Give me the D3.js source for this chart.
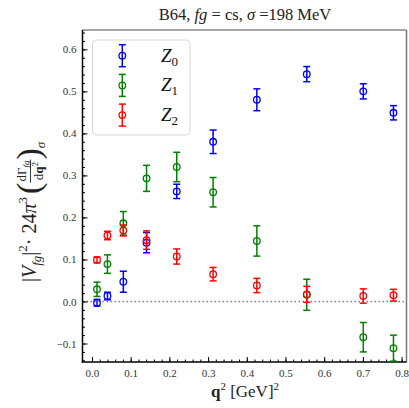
<!DOCTYPE html>
<html>
<head>
<meta charset="utf-8">
<script src="https://cdn.jsdelivr.net/npm/d3@7"></script>
<style>
  body { margin: 0; background: #fff; }
  svg text { font-family: "Liberation Serif", "DejaVu Serif", serif; }
</style>
</head>
<body>
<svg id="chart" width="409" height="408"></svg>
<script>
/* ------------ Data ----------------*/
const q2 = [0.013, 0.040, 0.081, 0.141, 0.219, 0.313, 0.426, 0.555, 0.701, 0.779];
const z0 = [-0.003, 0.013, 0.047, 0.140, 0.262, 0.380, 0.480, 0.541, 0.500, 0.449];
const z0Err = [0.008, 0.009, 0.025, 0.024, 0.017, 0.028, 0.026, 0.018, 0.018, 0.017];
const z1 = [0.029, 0.089, 0.186, 0.293, 0.320, 0.260, 0.144, 0.016, -0.085, -0.111];
const z1Err = [0.017, 0.022, 0.028, 0.031, 0.035, 0.035, 0.036, 0.037, 0.035, 0.031];
const z2 = [0.099, 0.157, 0.169, 0.146, 0.107, 0.065, 0.038, 0.017, 0.013, 0.015];
const z2Err = [0.007, 0.010, 0.013, 0.022, 0.018, 0.016, 0.017, 0.019, 0.017, 0.014];
const seriesNames = ['0', '1', '2'];
const seriesColors = ['#0000ff', '#008000', '#ff0000'];
const xTicks = [0.0, 0.1, 0.2, 0.3, 0.4, 0.5, 0.6, 0.7, 0.8];
const yTicks = [-0.1, 0.0, 0.1, 0.2, 0.3, 0.4, 0.5, 0.6];

/* ------------ Setup ----------------*/
const svg = d3.select('#chart');
const plotLeft = 82.5, plotRight = 406.5, plotTop = 30, plotBottom = 362;

const x = d3.scaleLinear().domain([-0.0245, 0.8127]).range([plotLeft, plotRight]);
const y = d3.scaleLinear().domain([-0.144, 0.646]).range([plotBottom, plotTop]);

// zero line
svg.append('line')
  .attr('x1', plotLeft).attr('x2', plotRight)
  .attr('y1', y(0)).attr('y2', y(0))
  .attr('stroke', '#808080')
  .attr('stroke-width', 1.5)
  .attr('stroke-dasharray', '1.5,2.5');

/* ------------ Axes ----------------*/
const xAxis = d3.axisBottom(x).tickValues(xTicks).tickSize(-5).tickPadding(7)
  .tickFormat(d3.format('.1f'));
const xMinor = d3.axisBottom(x).tickValues(d3.range(0, 0.81, 0.02)).tickSize(-2.5).tickFormat('');
const yAxis = d3.axisLeft(y).tickValues(yTicks).tickSize(-5).tickPadding(6)
  .tickFormat(d => d3.format('.1f')(d).replace('-', '\u2212'));
const yMinor = d3.axisLeft(y).tickValues(d3.range(-0.14, 0.645, 0.02)).tickSize(-2.5).tickFormat('');

svg.append('g').attr('transform', `translate(0,${plotBottom})`).call(xAxis);
svg.append('g').attr('transform', `translate(0,${plotBottom})`).call(xMinor);
svg.append('g').attr('transform', `translate(${plotLeft},0)`).call(yAxis);
svg.append('g').attr('transform', `translate(${plotLeft},0)`).call(yMinor);

svg.selectAll('.domain').remove();
svg.selectAll('.tick line').attr('stroke', '#000').attr('stroke-width', 1);
svg.selectAll('.tick text').attr('font-size', '11px').attr('fill', '#333');

// frame
svg.append('line').attr('x1', plotLeft).attr('x2', plotRight).attr('y1', plotTop).attr('y2', plotTop)
  .attr('stroke', '#888').attr('stroke-width', 1.5);
svg.append('line').attr('x1', plotRight).attr('x2', plotRight).attr('y1', plotTop).attr('y2', plotBottom)
  .attr('stroke', '#777').attr('stroke-width', 1.5);
svg.append('line').attr('x1', plotLeft).attr('x2', plotLeft).attr('y1', plotTop).attr('y2', plotBottom + 0.75)
  .attr('stroke', '#000').attr('stroke-width', 1.5);
svg.append('line').attr('x1', plotLeft - 0.75).attr('x2', plotRight).attr('y1', plotBottom).attr('y2', plotBottom)
  .attr('stroke', '#000').attr('stroke-width', 1.5);

/* ------------ Error bars ----------------*/
const drawErr = (wrapper, cx, cy, lo, hi, color) => {
  wrapper.append('line')
    .attr('x1', cx).attr('x2', cx).attr('y1', lo).attr('y2', hi)
    .attr('stroke', color).attr('stroke-width', 1.5);
  [lo, hi].forEach(v => wrapper.append('line')
    .attr('x1', cx - 3.5).attr('x2', cx + 3.5).attr('y1', v).attr('y2', v)
    .attr('stroke', color).attr('stroke-width', 1.5));
  wrapper.append('circle')
    .attr('cx', cx).attr('cy', cy).attr('r', 3.3)
    .attr('fill', 'none').attr('stroke', color).attr('stroke-width', 1.3);
};

const allSeries = [[z0, z0Err], [z1, z1Err], [z2, z2Err]];
allSeries.forEach(([vals, errs], s) => {
  const g = svg.append('g').attr('class', 'series' + s);
  vals.forEach((v, i) => {
    drawErr(g, x(q2[i]), y(v), y(v - errs[i]), y(v + errs[i]), seriesColors[s]);
  });
});

/* ------------ Legend ----------------*/
const legend = svg.append('g');
legend.append('rect')
  .attr('x', 92.5).attr('y', 40).attr('width', 97.5).attr('height', 95).attr('rx', 4)
  .attr('fill', '#fff').attr('fill-opacity', 0.8)
  .attr('stroke', '#d8d8d8').attr('stroke-width', 1);
seriesNames.forEach((name, i) => {
  const ly = 55.7 + i * 29.7;
  drawErr(legend, 122.3, ly, ly + 11, ly - 11, seriesColors[i]);
  const t = legend.append('text')
    .attr('x', 161).attr('y', ly + 6)
    .attr('font-size', '19px').attr('fill', '#111');
  t.append('tspan').attr('font-style', 'italic').text('Z');
  t.append('tspan').attr('font-size', '13px').attr('dy', 4).text(name);
});

/* ------------ Titles ----------------*/
const title = svg.append('text')
  .attr('x', 245).attr('y', 20).attr('text-anchor', 'middle')
  .attr('font-size', '16.5px').attr('fill', '#222');
title.append('tspan').text('B64, ');
title.append('tspan').attr('font-style', 'italic').text('fg');
title.append('tspan').text(' = cs, ');
title.append('tspan').attr('font-style', 'italic').text('σ');
title.append('tspan').text(' =198 MeV');

const xl = svg.append('text')
  .attr('x', 245).attr('y', 397).attr('text-anchor', 'middle')
  .attr('font-size', '17px').attr('fill', '#222');
xl.append('tspan').attr('font-weight', 'bold').text('q');
xl.append('tspan').attr('font-size', '11px').attr('dy', -7).text('2');
xl.append('tspan').attr('dy', 7).text(' [GeV]');
xl.append('tspan').attr('font-size', '11px').attr('dy', -7).text('2');

// y label, built piece by piece in a rotated frame
const yl = svg.append('g').attr('transform', 'translate(36,196) rotate(-90)');
let cursor = -86;
const piece = (txt, size, dy, italic) => {
  const t = yl.append('text').attr('x', cursor).attr('y', dy)
    .attr('font-size', size + 'px').attr('fill', '#222')
    .attr('font-style', italic ? 'italic' : 'normal').text(txt);
  cursor += t.node().getComputedTextLength();
  return t;
};
piece('|', 20, 0, false);
piece('V', 20, 0, true);
piece('fg', 13, 5, true);
piece('|', 20, 0, false);
piece('2', 13, -9, false);
piece(' · 24', 20, 0, false);
piece('π', 20, 0, true);
piece('3', 13, -9, false);
cursor += 3;
piece('(', 34, 4, false);
const fracStart = cursor;
const num = yl.append('text').attr('y', -10).attr('font-size', '13px').attr('fill', '#222');
num.append('tspan').text('dΓ');
num.append('tspan').attr('font-size', '9px').attr('font-style', 'italic').attr('dy', 3).text('fg');
const den = yl.append('text').attr('y', 7).attr('font-size', '13px').attr('fill', '#222');
den.append('tspan').text('d');
den.append('tspan').attr('font-weight', 'bold').text('q');
den.append('tspan').attr('font-size', '9px').attr('dy', -5).text('2');
const fw = Math.max(num.node().getComputedTextLength(), den.node().getComputedTextLength()) + 2;
num.attr('x', fracStart + (fw - num.node().getComputedTextLength()) / 2);
den.attr('x', fracStart + (fw - den.node().getComputedTextLength()) / 2);
yl.append('line').attr('x1', fracStart).attr('x2', fracStart + fw)
  .attr('y1', -5.5).attr('y2', -5.5).attr('stroke', '#222').attr('stroke-width', 0.9);
cursor += fw;
piece(')', 34, 4, false);
piece('σ', 13, 9, true);
</script>
</body>
</html>
